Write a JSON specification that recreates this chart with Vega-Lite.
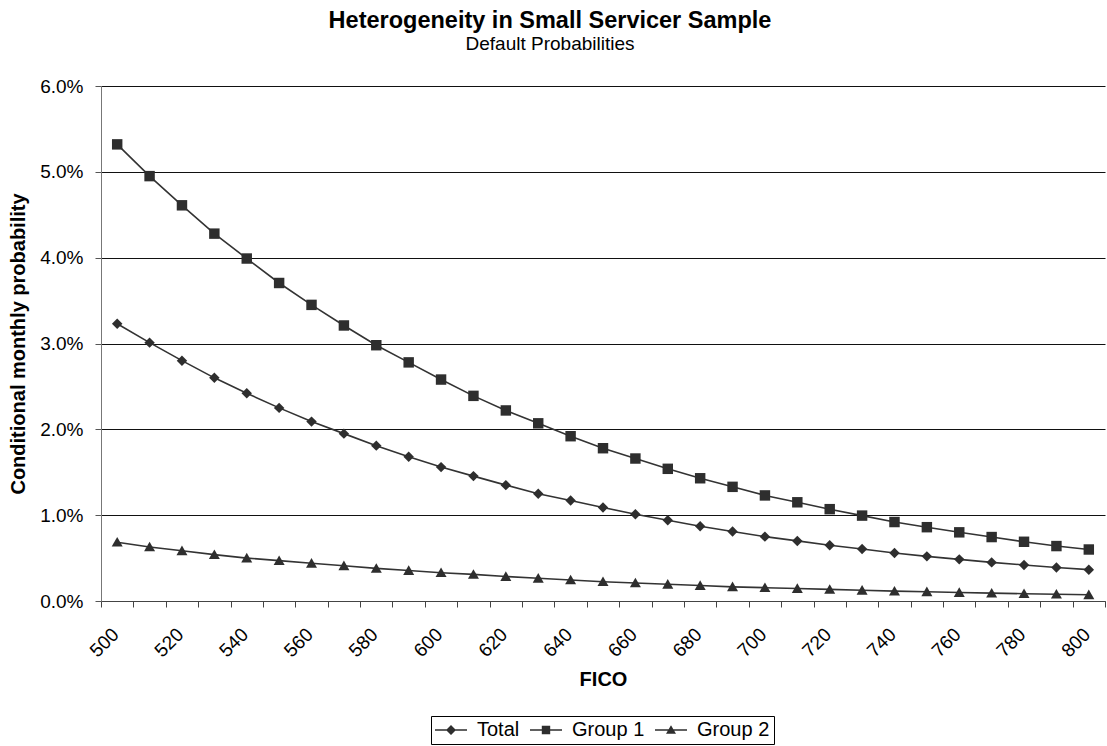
{
  "$schema": "https://vega.github.io/schema/vega-lite/v6.json",
  "width": 1004,
  "height": 515,
  "autosize": "none",
  "padding": {"left": 101, "top": 86, "right": 2, "bottom": 145},
  "background": "white",
  "config": {
    "font": "Liberation Sans",
    "view": {"stroke": null},
    "axis": {"labelColor": "#000", "titleColor": "#000", "labelFont": "Liberation Sans", "titleFont": "Liberation Sans"}
  },
  "title": {
    "text": "Heterogeneity in Small Servicer Sample",
    "subtitle": "Default Probabilities",
    "fontSize": 23.5,
    "fontWeight": "bold",
    "subtitleFontSize": 19,
    "subtitleColor": "#000",
    "color": "#000",
    "anchor": "middle",
    "dx": -53,
    "offset": 23,
    "subtitlePadding": 3
  },
  "data": {
    "values": [
      {"fico": 500, "series": "Total", "p": 0.0323}, {"fico": 510, "series": "Total", "p": 0.0301}, {"fico": 520, "series": "Total", "p": 0.0280}, {"fico": 530, "series": "Total", "p": 0.0260}, {"fico": 540, "series": "Total", "p": 0.0242}, {"fico": 550, "series": "Total", "p": 0.0225}, {"fico": 560, "series": "Total", "p": 0.0209}, {"fico": 570, "series": "Total", "p": 0.0195}, {"fico": 580, "series": "Total", "p": 0.0181}, {"fico": 590, "series": "Total", "p": 0.0168}, {"fico": 600, "series": "Total", "p": 0.0156}, {"fico": 610, "series": "Total", "p": 0.01455}, {"fico": 620, "series": "Total", "p": 0.0135}, {"fico": 630, "series": "Total", "p": 0.0125}, {"fico": 640, "series": "Total", "p": 0.0117}, {"fico": 650, "series": "Total", "p": 0.0109}, {"fico": 660, "series": "Total", "p": 0.0101}, {"fico": 670, "series": "Total", "p": 0.0094}, {"fico": 680, "series": "Total", "p": 0.0087}, {"fico": 690, "series": "Total", "p": 0.0081}, {"fico": 700, "series": "Total", "p": 0.0075}, {"fico": 710, "series": "Total", "p": 0.0070}, {"fico": 720, "series": "Total", "p": 0.0065}, {"fico": 730, "series": "Total", "p": 0.00605}, {"fico": 740, "series": "Total", "p": 0.0056}, {"fico": 750, "series": "Total", "p": 0.0052}, {"fico": 760, "series": "Total", "p": 0.00485}, {"fico": 770, "series": "Total", "p": 0.0045}, {"fico": 780, "series": "Total", "p": 0.0042}, {"fico": 790, "series": "Total", "p": 0.0039}, {"fico": 800, "series": "Total", "p": 0.00365},
      {"fico": 500, "series": "Group 1", "p": 0.0532}, {"fico": 510, "series": "Group 1", "p": 0.0495}, {"fico": 520, "series": "Group 1", "p": 0.0461}, {"fico": 530, "series": "Group 1", "p": 0.0428}, {"fico": 540, "series": "Group 1", "p": 0.0399}, {"fico": 550, "series": "Group 1", "p": 0.03705}, {"fico": 560, "series": "Group 1", "p": 0.0345}, {"fico": 570, "series": "Group 1", "p": 0.0321}, {"fico": 580, "series": "Group 1", "p": 0.0298}, {"fico": 590, "series": "Group 1", "p": 0.0278}, {"fico": 600, "series": "Group 1", "p": 0.0258}, {"fico": 610, "series": "Group 1", "p": 0.0239}, {"fico": 620, "series": "Group 1", "p": 0.0222}, {"fico": 630, "series": "Group 1", "p": 0.0207}, {"fico": 640, "series": "Group 1", "p": 0.0192}, {"fico": 650, "series": "Group 1", "p": 0.0178}, {"fico": 660, "series": "Group 1", "p": 0.0166}, {"fico": 670, "series": "Group 1", "p": 0.0154}, {"fico": 680, "series": "Group 1", "p": 0.0143}, {"fico": 690, "series": "Group 1", "p": 0.0133}, {"fico": 700, "series": "Group 1", "p": 0.0123}, {"fico": 710, "series": "Group 1", "p": 0.0115}, {"fico": 720, "series": "Group 1", "p": 0.0107}, {"fico": 730, "series": "Group 1", "p": 0.00995}, {"fico": 740, "series": "Group 1", "p": 0.0092}, {"fico": 750, "series": "Group 1", "p": 0.0086}, {"fico": 760, "series": "Group 1", "p": 0.0080}, {"fico": 770, "series": "Group 1", "p": 0.00745}, {"fico": 780, "series": "Group 1", "p": 0.0069}, {"fico": 790, "series": "Group 1", "p": 0.0064}, {"fico": 800, "series": "Group 1", "p": 0.0060},
      {"fico": 500, "series": "Group 2", "p": 0.00685}, {"fico": 510, "series": "Group 2", "p": 0.0063}, {"fico": 520, "series": "Group 2", "p": 0.00585}, {"fico": 530, "series": "Group 2", "p": 0.0054}, {"fico": 540, "series": "Group 2", "p": 0.0050}, {"fico": 550, "series": "Group 2", "p": 0.0047}, {"fico": 560, "series": "Group 2", "p": 0.0044}, {"fico": 570, "series": "Group 2", "p": 0.0041}, {"fico": 580, "series": "Group 2", "p": 0.0038}, {"fico": 590, "series": "Group 2", "p": 0.00355}, {"fico": 600, "series": "Group 2", "p": 0.0033}, {"fico": 610, "series": "Group 2", "p": 0.0031}, {"fico": 620, "series": "Group 2", "p": 0.00285}, {"fico": 630, "series": "Group 2", "p": 0.00265}, {"fico": 640, "series": "Group 2", "p": 0.00245}, {"fico": 650, "series": "Group 2", "p": 0.00225}, {"fico": 660, "series": "Group 2", "p": 0.0021}, {"fico": 670, "series": "Group 2", "p": 0.00195}, {"fico": 680, "series": "Group 2", "p": 0.0018}, {"fico": 690, "series": "Group 2", "p": 0.00165}, {"fico": 700, "series": "Group 2", "p": 0.00155}, {"fico": 710, "series": "Group 2", "p": 0.00145}, {"fico": 720, "series": "Group 2", "p": 0.00135}, {"fico": 730, "series": "Group 2", "p": 0.00125}, {"fico": 740, "series": "Group 2", "p": 0.00115}, {"fico": 750, "series": "Group 2", "p": 0.00107}, {"fico": 760, "series": "Group 2", "p": 0.00099}, {"fico": 770, "series": "Group 2", "p": 0.00092}, {"fico": 780, "series": "Group 2", "p": 0.00085}, {"fico": 790, "series": "Group 2", "p": 0.00079}, {"fico": 800, "series": "Group 2", "p": 0.00073}
    ]
  },
  "encoding": {
    "x": {
      "field": "fico",
      "type": "ordinal",
      "sort": "ascending",
      "scale": {"type": "band", "paddingInner": 0, "paddingOuter": 0},
      "axis": {
        "title": "FICO",
        "titleFontSize": 20,
        "titleFontWeight": "bold",
        "titlePadding": 9,
        "labelAngle": -45,
        "labelAlign": "right",
        "labelBaseline": "middle",
        "labelFontSize": 19,
        "labelPadding": 24,
        "labelOffset": -2,
        "labelExpr": "datum.value % 20 == 0 ? datum.label : ''",
        "tickBand": "extent",
        "tickSize": 6,
        "tickColor": "#444",
        "domainColor": "#444",
        "grid": false
      }
    },
    "y": {
      "field": "p",
      "type": "quantitative",
      "scale": {"domain": [0, 0.06], "nice": false},
      "axis": {
        "title": "Conditional monthly probability",
        "titleFontSize": 20,
        "titleFontWeight": "bold",
        "titlePadding": 11,
        "values": [0, 0.01, 0.02, 0.03, 0.04, 0.05, 0.06],
        "format": ".1%",
        "labelFontSize": 19,
        "labelPadding": 12,
        "tickSize": 6,
        "tickColor": "#555",
        "domainColor": "#777",
        "grid": true,
        "gridColor": "#111",
        "gridWidth": 1
      }
    }
  },
  "layer": [
    {
      "mark": {"type": "line", "color": "#333", "strokeWidth": 1.6},
      "encoding": {"detail": {"field": "series"}}
    },
    {
      "mark": {"type": "point", "filled": true, "color": "#2e2e2e", "opacity": 1, "size": 121},
      "encoding": {
        "shape": {
          "field": "series",
          "scale": {
            "domain": ["Total", "Group 1", "Group 2"],
            "range": ["M0,-0.95L0.95,0L0,0.95L-0.95,0Z", "M-0.95,-0.95H0.95V0.95H-0.95Z", "M0,-0.95L1,0.8L-1,0.8Z"]
          },
          "legend": null
        }
      }
    },
    {
      "mark": {"type": "point", "filled": true, "color": "#2e2e2e", "size": 0},
      "encoding": {
        "shape": {
          "field": "series",
          "scale": {
            "domain": ["Total", "Group 1", "Group 2"],
            "range": [
              "M-1.6,-0.075H1.6V0.075H-1.6ZM0,-0.5L0.5,0L0,0.5L-0.5,0Z",
              "M-1.6,-0.075H1.6V0.075H-1.6ZM-0.42,-0.42H0.42V0.42H-0.42Z",
              "M-1.6,-0.075H1.6V0.075H-1.6ZM0,-0.48L0.5,0.38L-0.5,0.38Z"
            ]
          },
          "legend": {
            "title": null,
            "orient": "none",
            "legendX": 330,
            "legendY": 630,
            "direction": "horizontal",
            "symbolSize": 400,
            "symbolOffset": 6,
            "symbolOpacity": 1,
            "symbolFillColor": "#2e2e2e",
            "symbolStrokeColor": "#2e2e2e",
            "symbolStrokeWidth": 0,
            "labelFontSize": 20,
            "labelFont": "Liberation Sans",
            "labelColor": "#000",
            "labelOffset": 16,
            "columnPadding": 10,
            "strokeColor": "#000",
            "padding": 4
          }
        }
      }
    }
  ],
  "resolve": {"scale": {"shape": "independent"}, "legend": {"shape": "independent"}}
}
